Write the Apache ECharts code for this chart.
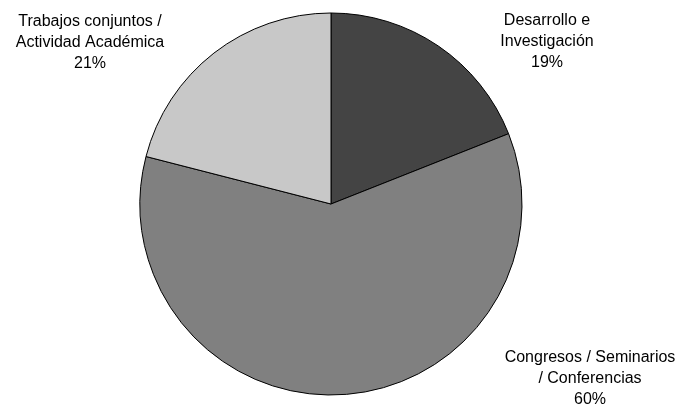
<!DOCTYPE html>
<html>
<head>
<meta charset="utf-8">
<script src="https://cdn.jsdelivr.net/npm/echarts@6/dist/echarts.min.js"></script>
<style>
html,body{margin:0;padding:0;background:#fff;}
#chart{width:679px;height:405px;}
</style>
</head>
<body>
<div id="chart"></div>
<script>
var categories = ['Desarrollo e\nInvestigación', 'Congresos / Seminarios\n/ Conferencias', 'Trabajos conjuntos /\nActividad Académica'];
var values = [19, 60, 21];
var colors = ['#444444', '#808080', '#c8c8c8'];
var labelPos = [[547, 42], [590, 379], [90, 43]];

var chart = echarts.init(document.getElementById('chart'), null, {renderer: 'canvas'});
chart.setOption({
  backgroundColor: '#ffffff',
  animation: false,
  series: [{
    type: 'pie',
    center: [331, 204],
    radius: [0, 191],
    startAngle: 90,
    clockwise: true,
    silent: true,
    data: categories.map(function (c, i) {
      return { name: c, value: values[i], itemStyle: { color: colors[i] } };
    }),
    itemStyle: { borderColor: '#000', borderWidth: 1 },
    label: {
      show: true,
      position: 'outside',
      formatter: function (p) { return p.name + '\n' + p.value + '%'; },
      fontFamily: 'Liberation Sans, Arial, sans-serif',
      fontSize: 16,
      lineHeight: 21,
      color: '#000',
      align: 'center'
    },
    labelLine: { show: false },
    labelLayout: function (params) {
      var p = labelPos[params.dataIndex];
      return { x: p[0], y: p[1], align: 'center', verticalAlign: 'middle' };
    }
  }]
});
</script>
</body>
</html>
